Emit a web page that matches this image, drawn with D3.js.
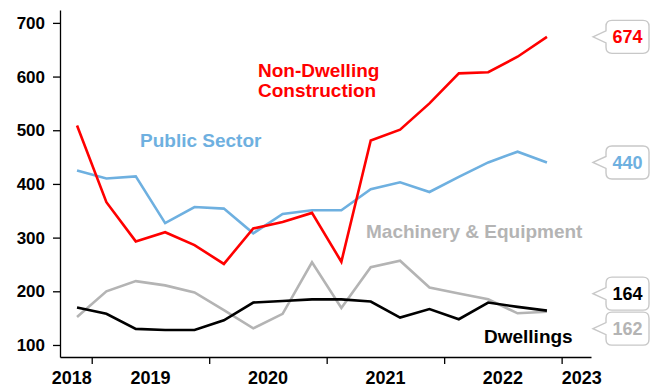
<!DOCTYPE html>
<html>
<head>
<meta charset="utf-8">
<script src="https://cdn.jsdelivr.net/npm/d3@7"></script>
<style>
  html, body { margin: 0; padding: 0; background: #fff; }
  svg { display: block; font-family: "Liberation Sans", Arial, sans-serif; font-weight: bold; }
</style>
</head>
<body>
<svg id="chart" width="654" height="387"></svg>
<script>
// Quarterly investment series, Q4 2018 to Q4 2022
const quarters = ["Dec-18","Mar-19","Jun-19","Sep-19","Dec-19","Mar-20","Jun-20","Sep-20","Dec-20",
                  "Mar-21","Jun-21","Sep-21","Dec-21","Mar-22","Jun-22","Sep-22","Dec-22"];
const nonDwelling  = [509, 366, 293, 310, 286, 251, 317, 329, 346, 255, 481, 501, 550, 606, 608, 637, 674];
const publicSector = [425, 410, 414, 327, 357, 354, 308, 344, 351, 351, 390, 403, 385, 413, 440, 460, 440];
const machinery    = [152, 200, 219, 211, 198, 165, 131, 158, 254, 169, 245, 257, 207, 196, 185, 159, 162];
const dwellings    = [170, 158, 130, 128, 128, 146, 179, 182, 185, 185, 181, 151, 167, 148, 179, 171, 164];
const yTicks = [100, 200, 300, 400, 500, 600, 700];
const years = ["2018", "2019", "2020", "2021", "2022", "2023"];

const series = [
  { name: "Machinery & Equipment", values: machinery,    color: "#b4b4b4" },
  { name: "Dwellings",             values: dwellings,    color: "#000000" },
  { name: "Public Sector",         values: publicSector, color: "#6eb0e0" },
  { name: "Non-Dwelling Construction", values: nonDwelling, color: "#ff0000" }
];

const svg = d3.select("#chart");

const x = d3.scaleLinear().domain([-0.58, quarters.length + 0.5]).range([60, 591]);
const y = d3.scaleLinear().domain([77.6, 724]).range([357, 10]);

// year boundaries sit between the Q4 and the following Q1
const boundaries = quarters.map((q, i) => i).filter(i => quarters[i].startsWith("Dec")).map(i => i + 0.5);

// y axis
const yAxis = svg.append("g").attr("transform", "translate(60,0)")
  .call(d3.axisLeft(y).tickValues(yTicks).tickSize(7).tickPadding(8).tickSizeOuter(0));
yAxis.select(".domain").attr("stroke", "#000").attr("stroke-width", 1.3);
yAxis.selectAll(".tick line").attr("stroke", "#000").attr("stroke-width", 1.3);
yAxis.selectAll(".tick text").attr("font-size", 17).attr("font-weight", "bold")
  .attr("font-family", "Liberation Sans, Arial, sans-serif").attr("fill", "#000");

// x axis: ticks at year boundaries, labels centred on each year
const xAxis = svg.append("g").attr("transform", "translate(0,357)")
  .call(d3.axisBottom(x).tickValues(boundaries).tickSize(7).tickFormat("").tickSizeOuter(0));
xAxis.select(".domain").attr("stroke", "#000").attr("stroke-width", 1.3);
xAxis.selectAll(".tick line").attr("stroke", "#000").attr("stroke-width", 1.3);

const yearPos = years.map((yr, i) => {
  if (i === 0) return { yr, xp: x(boundaries[0]), anchor: "end" };
  if (i === years.length - 1) return { yr, xp: x(boundaries[boundaries.length - 1]), anchor: "start" };
  return { yr, xp: x((boundaries[i - 1] + boundaries[i]) / 2), anchor: "middle" };
});
svg.append("g").selectAll("text").data(yearPos).join("text")
  .attr("x", d => d.xp).attr("y", 384)
  .attr("text-anchor", d => d.anchor)
  .attr("font-size", 18).attr("fill", "#000")
  .text(d => d.yr);

// lines
const line = d3.line().x((d, i) => x(i)).y(d => y(d));
svg.append("g").selectAll("path").data(series).join("path")
  .attr("d", d => line(d.values))
  .attr("fill", "none")
  .attr("stroke", d => d.color)
  .attr("stroke-width", 2.6)
  .attr("stroke-linejoin", "miter");

// series names
const names = svg.append("g").attr("font-size", 19);
names.append("text").attr("x", 258).attr("y", 77).attr("fill", "#ff0000").text("Non-Dwelling");
names.append("text").attr("x", 258).attr("y", 97).attr("fill", "#ff0000").text("Construction");
names.append("text").attr("x", 140).attr("y", 146.5).attr("fill", "#6eb0e0").text("Public Sector");
names.append("text").attr("x", 366).attr("y", 238).attr("fill", "#b4b4b4").text("Machinery & Equipment");
names.append("text").attr("x", 484).attr("y", 343).attr("fill", "#000").text("Dwellings");

// end-value callouts, nudged apart where they would collide
const boxW = 43, boxH = 33, gap = 35, bx = 606, tipX = 593, r = 6, notch = 6;
const callouts = series.map(s => ({
  value: s.values[s.values.length - 1],
  color: s.color,
  cy: y(s.values[s.values.length - 1])
})).sort((a, b) => a.cy - b.cy);

// group overlapping callouts and spread them symmetrically about their mean
let groups = [];
callouts.forEach(c => {
  const g = groups[groups.length - 1];
  if (g && c.cy - g[g.length - 1].cy < gap) g.push(c); else groups.push([c]);
});
groups.forEach(g => {
  const mean = d3.mean(g, c => c.cy);
  g.forEach((c, i) => { c.cy = mean + (i - (g.length - 1) / 2) * gap; });
});

function calloutPath(cy) {
  const t = cy - boxH / 2, b = cy + boxH / 2, rr = bx + boxW;
  return `M${tipX},${cy} L${bx},${cy - notch} L${bx},${t + r} Q${bx},${t} ${bx + r},${t}
          L${rr - r},${t} Q${rr},${t} ${rr},${t + r} L${rr},${b - r} Q${rr},${b} ${rr - r},${b}
          L${bx + r},${b} Q${bx},${b} ${bx},${b - r} L${bx},${cy + notch} Z`;
}

const cg = svg.append("g").selectAll("g").data(callouts).join("g");
cg.append("path").attr("d", d => calloutPath(d.cy))
  .attr("fill", "#fff").attr("stroke", "#c8c8c8").attr("stroke-width", 1.4);
cg.append("text").attr("x", bx + boxW / 2).attr("y", d => d.cy + 6.5)
  .attr("text-anchor", "middle").attr("font-size", 18)
  .attr("fill", d => d.color).text(d => d.value);
</script>
</body>
</html>
